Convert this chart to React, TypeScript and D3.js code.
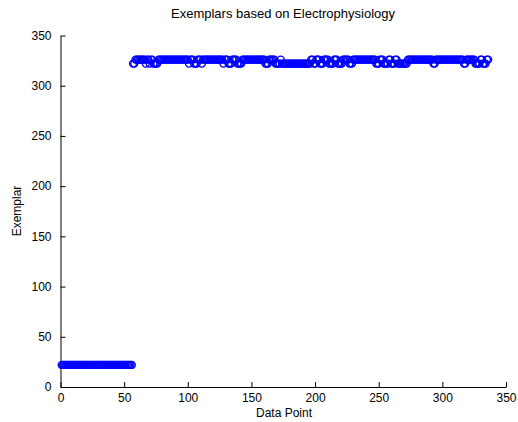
import * as d3 from "d3";
import { useEffect, useRef } from "react";

// [first data point, last data point, exemplar] runs
const exemplarRuns: [number, number, number][] = [
    [1, 56, 22],
    [57, 58, 322], [59, 66, 326], [67, 67, 322], [68, 69, 326], [70, 70, 322],
    [71, 72, 326], [73, 76, 322], [77, 100, 326], [101, 101, 322], [102, 104, 326],
    [105, 107, 322], [108, 110, 326], [111, 111, 322], [112, 127, 326], [128, 128, 322],
    [129, 131, 326], [132, 134, 322], [135, 138, 326], [139, 142, 322], [143, 160, 326],
    [161, 163, 322], [164, 168, 326], [169, 172, 322], [173, 173, 326], [174, 196, 322],
    [197, 198, 326], [199, 200, 322], [201, 203, 326], [204, 206, 322], [207, 210, 326],
    [211, 214, 322], [215, 217, 326], [218, 221, 322], [222, 226, 326], [227, 229, 322],
    [230, 247, 326], [248, 250, 322], [251, 253, 326], [254, 257, 322], [258, 259, 326],
    [260, 262, 322], [263, 264, 326], [265, 272, 322], [273, 292, 326], [293, 294, 322],
    [295, 316, 326], [317, 318, 322], [319, 325, 326], [326, 329, 322], [330, 331, 326],
    [332, 334, 322], [335, 336, 326],
];

const xTicks = [0, 50, 100, 150, 200, 250, 300, 350];
const yTicks = [0, 50, 100, 150, 200, 250, 300, 350];

const titleText = "Exemplars based on Electrophysiology";
const xLabel = "Data Point";
const yLabel = "Exemplar";

export default function App() {
    const svgRef = useRef<SVGSVGElement | null>(null);
    const width = 518;
    const height = 422;

    useEffect(() => {
        document.body.style.margin = "0";

        const canvas = d3.select(svgRef.current)
            .attr("width", width)
            .attr("height", height);

        canvas.selectAll("*").remove();

        const x = d3.scaleLinear().domain([0, 350]).range([60.5, 506]);
        const y = d3.scaleLinear().domain([0, 350]).range([387, 35.5]);

        // expand runs into points
        const points: [number, number][] = [];
        for (const [a, b, v] of exemplarRuns) {
            for (let i = a; i <= b; i++) points.push([i, v]);
        }

        canvas.append("rect")
            .attr("width", width)
            .attr("height", height)
            .attr("fill", "white");

        const font = "'Liberation Sans', Arial, sans-serif";

        const xAxis = canvas.append("g")
            .attr("transform", `translate(0, ${y(0)})`)
            .call(d3.axisBottom(x).tickValues(xTicks).tickSizeInner(-5).tickSizeOuter(0).tickPadding(6));

        const yAxis = canvas.append("g")
            .attr("transform", `translate(${x(0)}, 0)`)
            .call(d3.axisLeft(y).tickValues(yTicks).tickSizeInner(-5).tickSizeOuter(0).tickPadding(9));

        for (const ax of [xAxis, yAxis]) {
            ax.selectAll("path").attr("stroke", "#000").attr("stroke-width", 1);
            ax.selectAll("line").attr("stroke", "#000").attr("stroke-width", 1);
            ax.selectAll("text")
                .attr("fill", "#000")
                .attr("font-size", 12)
                .attr("font-family", font);
        }

        canvas.append("g")
            .selectAll("circle")
            .data(points)
            .join("circle")
            .attr("cx", d => x(d[0]))
            .attr("cy", d => y(d[1]))
            .attr("r", 3.5)
            .attr("fill", "none")
            .attr("stroke", "#0000ff")
            .attr("stroke-width", 1.4);

        canvas.append("text")
            .attr("x", 283)
            .attr("y", 18)
            .attr("text-anchor", "middle")
            .attr("font-size", 13)
            .attr("font-family", font)
            .attr("fill", "#000")
            .text(titleText);

        canvas.append("text")
            .attr("x", 284)
            .attr("y", 417)
            .attr("text-anchor", "middle")
            .attr("font-size", 12)
            .attr("font-family", font)
            .attr("fill", "#000")
            .text(xLabel);

        canvas.append("text")
            .attr("transform", "translate(21, 211) rotate(-90)")
            .attr("text-anchor", "middle")
            .attr("font-size", 12)
            .attr("font-family", font)
            .attr("fill", "#000")
            .text(yLabel);
    }, []);

    return <svg ref={svgRef} style={{ display: "block" }} />;
}
